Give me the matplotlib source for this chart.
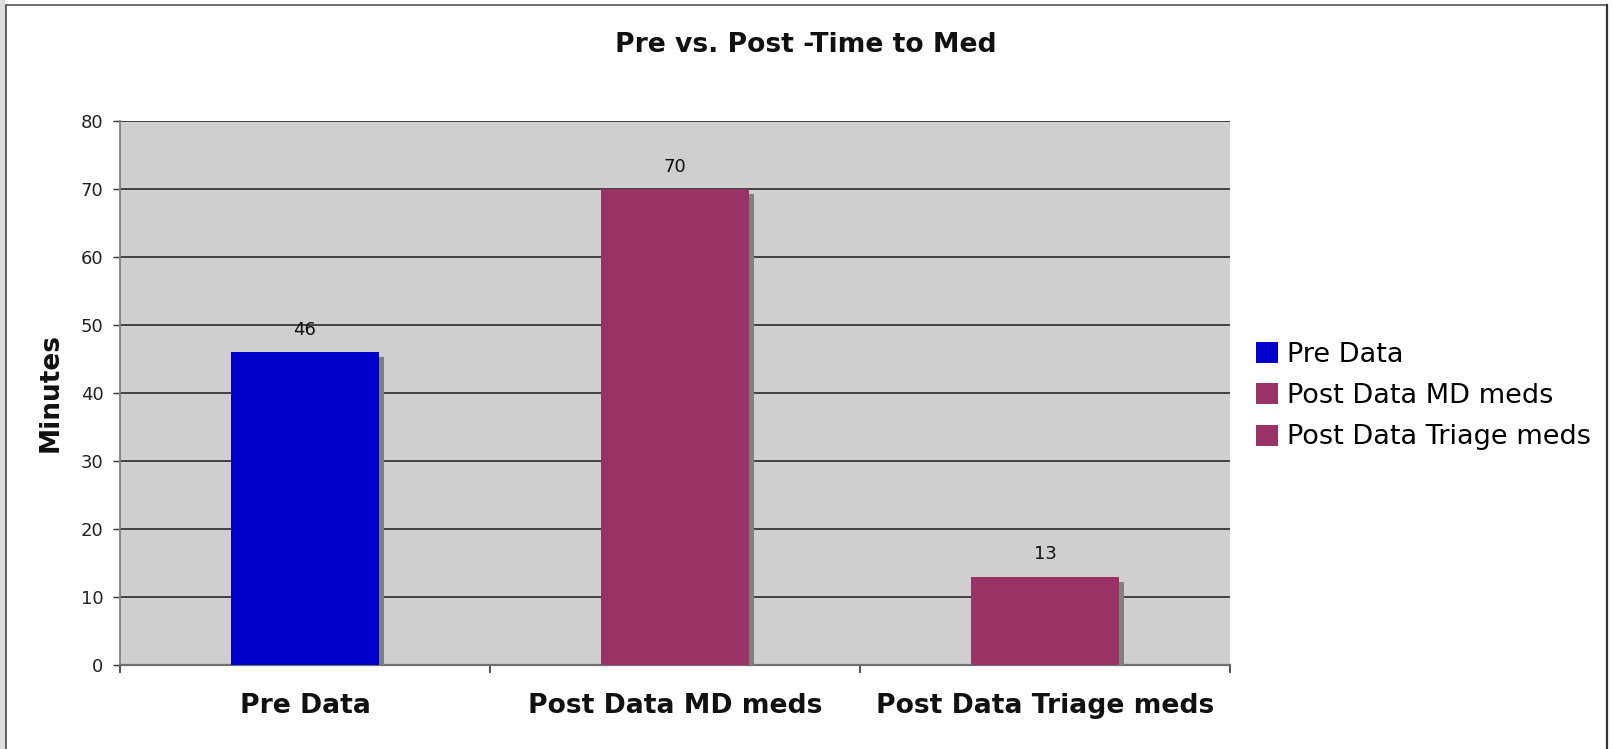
import matplotlib
matplotlib.use("Agg")
import matplotlib.pyplot as plt
import matplotlib.patheffects as pe
from matplotlib.patches import Patch, Rectangle
from matplotlib.lines import Line2D

categories = ["Pre Data", "Post Data MD meds", "Post Data Triage meds"]
values = [46, 70, 13]
colors = ["#0000cc", "#993366", "#993366"]
yticks = [0, 10, 20, 30, 40, 50, 60, 70, 80]
title = "Pre vs. Post -Time to Med"
ylabel = "Minutes"

W, H = 1613, 749
fig = plt.figure(figsize=(W / 100, H / 100), dpi=100)
fig.patch.set_facecolor("white")

# outer frame
fig.add_artist(Rectangle((0, 0), 5 / W, 1, transform=fig.transFigure,
                         facecolor="#dedede", edgecolor="none", zorder=0))
fig.add_artist(Line2D([6 / W, 6 / W], [0, 1 - 5 / H], transform=fig.transFigure,
                      color="#444444", lw=1.2))
fig.add_artist(Line2D([6 / W, 1607 / W], [1 - 5 / H, 1 - 5 / H], transform=fig.transFigure,
                      color="#555555", lw=1.2))
fig.add_artist(Line2D([1607 / W, 1607 / W], [0, 1 - 5 / H], transform=fig.transFigure,
                      color="#333333", lw=1.6))

ax = fig.add_axes([120 / W, 1 - 665 / H, 1110 / W, 544 / H])
ax.set_facecolor("#cfcfcf")

x = list(range(len(categories)))
bars = ax.bar(x, values, width=0.4, color=colors, zorder=3)
for b in bars:
    b.set_path_effects([pe.SimplePatchShadow(offset=(3.6, -3.6), shadow_rgbFace="#808080",
                                             alpha=1.0), pe.Normal()])

for xi, v in zip(x, values):
    ax.annotate(str(v), (xi, v), xytext=(0, 16), textcoords="offset points",
                ha="center", va="center", fontsize=13, color="#111111", zorder=4)

ax.set_xlim(-0.5, len(categories) - 0.5)
ax.set_ylim(0, 80)
ax.set_yticks(yticks)
ax.set_yticklabels([str(t) for t in yticks])
ax.yaxis.grid(True, color="#1a1a1a", lw=1.1, zorder=1)
ax.set_axisbelow(True)

ax.set_xticks(x)
ax.set_xticklabels(categories, fontsize=19.2, fontweight="bold", color="#111111")
ax.set_xticks([i - 0.5 for i in range(len(categories) + 1)], minor=True)
ax.tick_params(axis="x", which="major", length=0, pad=20)
ax.tick_params(axis="x", which="minor", length=6, width=1.2, color="#333333", direction="out")
ax.tick_params(axis="y", length=5, width=1.0, color="#333333", labelsize=13,
               labelcolor="#222222", pad=7)

for s in ["top", "right"]:
    ax.spines[s].set_visible(False)
ax.spines["left"].set_color("#808080")
ax.spines["left"].set_linewidth(1.3)
ax.spines["bottom"].set_color("#707070")
ax.spines["bottom"].set_linewidth(1.6)

fig.text(806 / W, 1 - 45 / H, title, ha="center", va="center", fontsize=19.2,
         fontweight="bold", color="#111111")
fig.text(51 / W, 1 - 393 / H, ylabel, ha="center", va="center", rotation=90,
         fontsize=19, fontweight="bold", color="#111111")

handles = [Patch(facecolor=c, edgecolor="none") for c in colors]
fig.legend(handles, categories, loc="center left", bbox_to_anchor=(1256 / W, 1 - 396 / H),
           frameon=False, fontsize=19.5, handlelength=0.82, handleheight=0.82,
           handletextpad=0.33, labelspacing=0.57, borderpad=0, borderaxespad=0)

fig.savefig("out.png", dpi=100)
